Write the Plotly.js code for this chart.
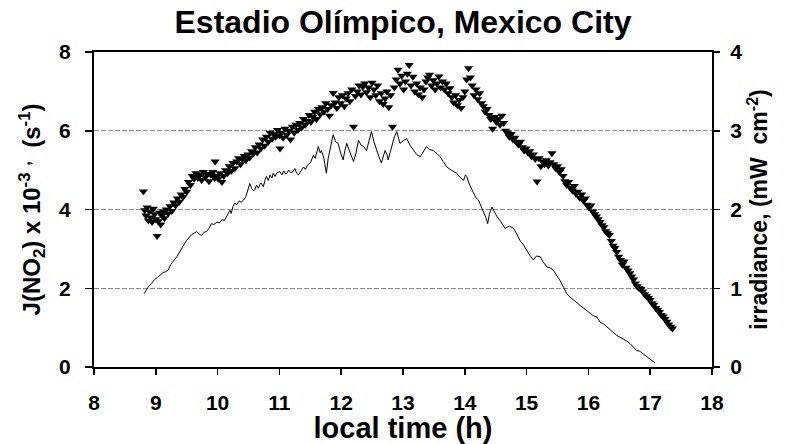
<!DOCTYPE html>
<html>
<head>
<meta charset="utf-8">
<script src="https://cdn.plot.ly/plotly-3.0.1.min.js"></script>
<style>html,body{margin:0;padding:0;background:#fff;}#chart{width:788px;height:444px;}</style>
</head>
<body>
<div id="chart"></div>
<script>
// J(NO2) x 10^-3 (s^-1) measurements: local time (h) and value
const jTime = [8.80,8.82,8.84,8.86,8.88,8.90,8.92,8.94,8.96,8.98,9.00,9.02,9.04,9.06,9.08,9.10,9.12,9.14,9.17,9.20,
9.23,9.26,9.29,9.32,9.35,9.38,9.41,9.44,9.47,9.50,9.53,9.56,9.59,9.62,9.65,9.68,9.71,9.74,9.77,9.80,
9.83,9.86,9.89,9.92,9.95,9.96,9.98,10.01,10.04,10.07,10.10,10.13,10.16,10.19,10.22,10.25,10.28,10.31,10.34,10.37,
10.40,10.43,10.46,10.49,10.52,10.55,10.58,10.61,10.64,10.67,10.70,10.73,10.76,10.79,10.82,10.85,10.88,10.91,10.94,10.97,
11.00,11.01,11.03,11.06,11.09,11.12,11.15,11.18,11.21,11.24,11.27,11.30,11.33,11.36,11.39,11.42,11.45,11.48,11.51,11.54,
11.57,11.60,11.63,11.66,11.69,11.72,11.75,11.78,11.81,11.84,11.87,11.90,11.93,11.96,11.99,12.02,12.05,12.08,12.11,12.14,
12.17,12.20,12.23,12.26,12.29,12.32,12.35,12.38,12.41,12.44,12.47,12.50,12.53,12.56,12.59,12.62,12.65,12.68,12.71,12.74,
12.77,12.80,12.83,12.86,12.89,12.92,12.95,12.98,13.01,13.04,13.07,13.10,13.13,13.16,13.19,13.22,13.25,13.28,13.31,13.34,
13.37,13.40,13.43,13.46,13.49,13.52,13.55,13.58,13.61,13.64,13.67,13.70,13.73,13.76,13.79,13.82,13.85,13.88,13.91,13.94,
13.97,14.00,14.03,14.06,14.09,14.12,14.15,14.18,14.21,14.24,14.27,14.30,14.33,14.36,14.39,14.42,14.45,14.48,14.51,14.54,
14.57,14.60,14.63,14.66,14.69,14.72,14.75,14.78,14.81,14.84,14.87,14.90,14.93,14.96,14.99,15.02,15.05,15.08,15.11,15.14,
15.17,15.20,15.23,15.26,15.29,15.32,15.35,15.38,15.41,15.44,15.47,15.50,15.53,15.56,15.59,15.62,15.65,15.68,15.71,15.74,
15.77,15.80,15.83,15.86,15.89,15.92,15.95,15.98,16.01,16.04,16.07,16.10,16.13,16.16,16.19,16.22,16.25,16.28,16.31,16.34,
16.37,16.40,16.43,16.46,16.49,16.52,16.55,16.58,16.61,16.64,16.67,16.70,16.73,16.76,16.79,16.82,16.85,16.88,16.91,16.94,
16.97,17.00,17.03,17.06,17.09,17.12,17.15,17.18,17.21,17.24,17.27,17.30,17.33,17.36];
const jValue = [4.46,3.98,3.85,4.05,3.72,3.95,3.80,3.68,4.02,3.88,3.75,3.33,3.70,3.92,3.62,3.85,3.95,3.78,4.00,3.90,
4.08,3.96,4.18,4.10,4.28,4.20,4.38,4.32,4.52,4.45,4.70,4.62,4.85,4.78,4.92,4.80,4.88,4.75,4.95,4.82,
4.90,4.72,4.88,4.95,4.80,5.22,4.86,4.78,4.92,4.70,4.85,5.00,4.92,5.10,4.98,5.18,5.05,5.22,5.30,5.15,
5.28,5.36,5.25,5.40,5.32,5.48,5.42,5.58,5.45,5.65,5.55,5.78,5.62,5.85,5.72,5.95,5.80,5.92,5.85,6.02,
5.88,5.55,5.95,5.82,6.05,5.90,6.00,5.78,6.10,5.95,6.15,6.02,6.20,6.08,6.30,6.15,6.25,6.40,6.22,6.35,
6.48,6.30,6.55,6.42,6.60,6.48,6.70,6.55,6.38,6.65,6.96,6.72,6.58,6.85,6.70,6.90,6.62,6.82,6.95,6.75,
7.05,6.10,6.88,7.00,7.15,6.92,7.12,7.20,6.98,7.10,6.85,7.22,7.05,6.90,7.15,6.75,6.95,6.68,6.82,7.00,
6.60,6.90,6.10,7.10,7.30,7.55,7.20,7.40,7.05,7.25,7.45,7.67,7.15,7.37,7.00,7.20,6.92,7.10,6.85,7.05,
7.25,7.35,7.42,7.15,7.28,7.05,7.20,7.38,7.10,7.25,7.05,7.20,6.95,7.08,6.85,6.72,6.90,6.65,6.78,6.58,
6.85,7.00,7.30,7.59,7.35,7.15,6.90,7.05,6.80,6.95,6.70,6.62,6.48,6.55,6.40,6.30,6.05,6.35,6.22,6.30,
6.15,6.38,6.20,6.00,5.95,5.85,5.92,5.78,5.82,5.70,5.65,5.72,5.58,5.50,5.55,5.45,5.48,5.35,5.40,5.28,
4.71,5.30,5.10,5.22,5.15,5.25,5.12,5.20,5.43,5.15,5.05,5.10,4.95,5.02,4.85,4.72,4.62,4.70,4.55,4.48,
4.60,4.40,4.45,4.30,4.38,4.22,4.28,4.12,4.05,4.10,3.95,3.88,3.82,3.75,3.68,3.60,3.55,3.45,3.40,3.35,
3.20,3.08,3.02,2.92,2.80,2.72,2.60,2.68,2.52,2.45,2.38,2.30,2.22,2.12,2.05,2.00,1.98,1.92,1.85,1.80,
1.75,1.70,1.62,1.58,1.50,1.45,1.40,1.32,1.28,1.22,1.15,1.08,1.02,0.98];

// Irradiance (mW cm^-2): local time (h) and value
const irrTime = [8.81,8.85,8.88,8.93,8.98,9.03,9.07,9.12,9.16,9.20,9.24,9.28,9.31,9.34,9.38,9.42,9.46,9.50,9.54,9.58,
9.62,9.66,9.70,9.74,9.78,9.82,9.86,9.90,9.94,9.99,10.03,10.07,10.11,10.15,10.18,10.20,10.22,10.25,10.28,10.31,
10.35,10.38,10.42,10.45,10.48,10.52,10.55,10.58,10.60,10.63,10.66,10.69,10.71,10.74,10.77,10.79,10.82,10.85,10.88,10.90,
10.93,10.96,11.01,11.04,11.07,11.10,11.12,11.15,11.18,11.22,11.25,11.28,11.31,11.35,11.39,11.42,11.46,11.50,11.55,11.58,
11.63,11.66,11.68,11.72,11.76,11.79,11.82,11.87,11.91,11.95,11.99,12.03,12.06,12.09,12.12,12.15,12.20,12.24,12.28,12.32,
12.36,12.41,12.45,12.49,12.53,12.57,12.61,12.65,12.68,12.71,12.74,12.76,12.79,12.82,12.86,12.90,12.95,13.00,13.06,13.11,
13.17,13.22,13.28,13.33,13.38,13.43,13.49,13.55,13.60,13.65,13.71,13.76,13.81,13.87,13.92,13.98,14.01,14.03,14.08,14.14,
14.18,14.22,14.26,14.30,14.34,14.37,14.40,14.44,14.48,14.52,14.58,14.65,14.72,14.79,14.84,14.89,14.95,15.00,15.05,15.11,
15.16,15.22,15.27,15.33,15.38,15.43,15.49,15.54,15.60,15.65,15.70,15.76,15.81,15.87,15.92,15.97,16.03,16.08,16.13,16.19,
16.24,16.30,16.35,16.40,16.46,16.51,16.56,16.62,16.67,16.72,16.78,16.83,16.88,16.94,17.00,17.05,17.08];
const irrValue = [0.93,0.99,1.02,1.06,1.11,1.14,1.17,1.20,1.21,1.23,1.30,1.35,1.37,1.40,1.46,1.51,1.56,1.61,1.65,1.68,
1.70,1.72,1.69,1.67,1.71,1.72,1.76,1.82,1.81,1.84,1.83,1.87,1.86,1.91,1.95,1.99,1.95,2.04,2.08,2.06,
2.11,2.09,2.12,2.15,2.22,2.33,2.27,2.24,2.25,2.31,2.27,2.33,2.33,2.29,2.38,2.42,2.37,2.44,2.40,2.46,
2.42,2.47,2.48,2.44,2.49,2.45,2.46,2.50,2.47,2.48,2.52,2.46,2.44,2.50,2.54,2.51,2.57,2.59,2.69,2.65,
2.80,2.72,2.75,2.65,2.46,2.65,2.75,2.95,2.86,2.84,2.72,2.63,2.75,2.84,2.77,2.70,2.61,2.72,2.88,2.82,
2.80,2.75,2.87,2.99,2.86,2.75,2.67,2.59,2.67,2.75,2.70,2.63,2.72,2.80,2.92,2.99,2.84,2.87,2.90,2.82,
2.75,2.70,2.67,2.74,2.80,2.76,2.75,2.71,2.67,2.61,2.54,2.51,2.49,2.46,2.41,2.37,2.44,2.42,2.31,2.20,
2.15,2.12,2.05,1.99,1.90,1.82,1.95,2.03,1.97,1.91,1.85,1.76,1.79,1.76,1.69,1.61,1.55,1.48,1.42,1.36,
1.41,1.40,1.33,1.27,1.26,1.23,1.16,1.10,1.01,0.93,0.89,0.85,0.81,0.78,0.75,0.72,0.69,0.65,0.64,0.57,
0.55,0.51,0.47,0.44,0.40,0.38,0.36,0.33,0.30,0.26,0.21,0.20,0.17,0.13,0.10,0.06,0.05];

const chartTitle = 'Estadio Olímpico, Mexico City';
const xTitle = 'local time (h)';
const yTitle = 'J(NO<sub>2</sub>) x 10<sup>-3</sup> <sup>,</sup>  (s<sup>-1</sup>)';
const y2Title = 'irradiance, (mW  cm<sup>-2</sup>)';
const xTicks = [8,9,10,11,12,13,14,15,16,17,18];
const yTicks = [0,2,4,6,8];
const y2Ticks = [0,1,2,3,4];

const FONT = 'Liberation Sans, Arial, sans-serif';

const traces = [
  {
    x: jTime, y: jValue, type: 'scatter', mode: 'markers',
    marker: {symbol: 'triangle-down', size: 8, color: '#000'},
    yaxis: 'y', hoverinfo: 'skip', showlegend: false
  },
  {
    x: irrTime, y: irrValue, type: 'scatter', mode: 'lines',
    line: {color: '#000', width: 1},
    yaxis: 'y2', hoverinfo: 'skip', showlegend: false
  }
];

const layout = {
  width: 788, height: 444,
  margin: {l: 94, r: 76, t: 52, b: 77},
  paper_bgcolor: '#fff', plot_bgcolor: '#fff',
  font: {family: FONT, color: '#000'},
  showlegend: false,
  title: {
    text: chartTitle,
    font: {family: FONT, size: 32, weight: 'bold', color: '#000'},
    xref: 'paper', x: 0.5, xanchor: 'center',
    yref: 'container', y: 0.952, yanchor: 'middle'
  },
  xaxis: {
    range: [8, 18], tickvals: xTicks, ticktext: xTicks.map(String),
    ticks: 'outside', ticklen: 6, tickwidth: 1.5, tickcolor: '#000',
    ticklabelstandoff: 10,
    showline: true, linewidth: 2, linecolor: '#000', mirror: true,
    showgrid: false, zeroline: false,
    tickfont: {family: FONT, size: 21, weight: 'bold'},
    title: {text: xTitle, font: {family: FONT, size: 29, weight: 'bold'}, standoff: 0}
  },
  yaxis: {
    range: [0, 8], tickvals: yTicks, ticktext: yTicks.map(String),
    ticks: 'outside', ticklen: 7, tickwidth: 1.5, tickcolor: '#000',
    ticklabelstandoff: 10,
    showline: true, linewidth: 2, linecolor: '#000',
    showgrid: true, gridcolor: '#8a8a8a', gridwidth: 1, griddash: '5px,2px',
    zeroline: false,
    tickfont: {family: FONT, size: 21, weight: 'bold'},
    title: {text: yTitle, font: {family: FONT, size: 24, weight: 'bold'}, standoff: 12}
  },
  yaxis2: {
    range: [0, 4], tickvals: y2Ticks, ticktext: y2Ticks.map(String),
    overlaying: 'y', side: 'right',
    ticks: 'outside', ticklen: 6, tickwidth: 1.5, tickcolor: '#000',
    ticklabelstandoff: 6,
    showline: true, linewidth: 2, linecolor: '#000',
    showgrid: false, zeroline: false,
    tickfont: {family: FONT, size: 21, weight: 'bold'},
    title: {text: y2Title, font: {family: FONT, size: 23, weight: 'bold'}, standoff: 10}
  }
};

Plotly.newPlot('chart', traces, layout, {staticPlot: true, displayModeBar: false});
</script>
</body>
</html>
